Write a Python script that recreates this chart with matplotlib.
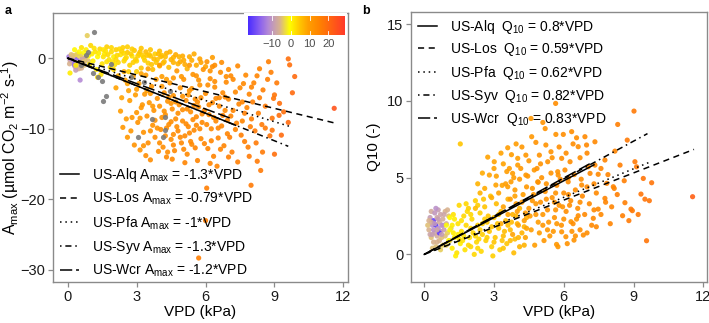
import numpy as np
import matplotlib.pyplot as plt
from matplotlib.colors import LinearSegmentedColormap
from matplotlib.lines import Line2D
from matplotlib.patches import Rectangle

plt.rcParams['font.family'] = ['Liberation Sans', 'DejaVu Sans']
plt.rcParams['mathtext.fontset'] = 'custom'
plt.rcParams['mathtext.rm'] = 'Liberation Sans'
plt.rcParams['mathtext.default'] = 'rm'

# ==========================================
# DATA
# ==========================================
sites = ['US-Alq', 'US-Los', 'US-Pfa', 'US-Syv', 'US-Wcr']
slope_amax = [-1.3, -0.79, -1.0, -1.3, -1.2]
slope_q10 = [0.8, 0.59, 0.62, 0.82, 0.83]
site_vpd_max = [7.3, 11.6, 9.7, 9.6, 7.2]
amax_labels = ['-1.3', '-0.79', '-1', '-1.3', '-1.2']
q10_labels = ['0.8', '0.59', '0.62', '0.82', '0.83']

# panel a points: (VPD, Amax, air temperature)
a_cold = [(0.05, 0.2, -14), (0.1, -0.3, -8), (0.15, 0.5, -5), (0.2, -0.6, -12), (0.25, 0.1, -6),
          (0.3, -0.9, -9), (0.35, 0.4, -4), (0.4, -0.2, -16), (0.45, -1.1, -7), (0.5, 0.3, -3),
          (0.55, -0.5, -11), (0.6, -1.4, -6), (0.65, 0.0, -5), (0.7, -0.8, -13), (0.75, -0.3, -4),
          (0.8, 0.2, -7), (0.12, -0.1, -9), (0.22, 0.4, -5), (0.32, -1.2, -10), (0.42, 0.6, -4),
          (0.52, -0.7, -6), (0.62, -0.1, -8), (0.72, -1.0, -5), (0.18, -0.4, -12), (0.38, -0.6, -7),
          (0.58, 0.5, -4), (0.28, -0.9, -15), (0.48, -1.5, -6), (0.68, -0.5, -5), (0.54, -3.1, -12),
          (0.85, 3.2, -4), (0.08, -0.8, -6), (0.9, -0.4, -5), (0.35, -1.7, -9)]
a_mild = [(0.3, 1.2, 0), (0.35, -1.0, 1), (0.6, 1.5, 2), (0.7, 0.8, -1), (0.9, 0.3, 0), (1.0, 1.8, 3),
          (1.1, -0.4, 1), (1.2, 0.9, 2), (1.3, 0.2, 0), (1.4, 1.3, 3), (1.5, -0.8, 2), (1.6, 0.6, 1),
          (1.7, 1.6, 4), (1.8, -0.2, 2), (1.9, 0.9, 3), (2.0, 0.2, 1), (2.1, 1.2, 4), (2.2, -0.6, 3),
          (2.3, 0.5, 2), (2.4, 1.5, 4), (2.5, -0.1, 3), (2.6, 0.8, 5), (2.7, -1.0, 4), (2.8, 0.3, 2),
          (2.9, 1.1, 5), (3.0, -0.4, 3), (3.1, 0.6, 4), (3.2, -1.4, 5), (3.3, 0.1, 3), (3.4, 0.9, 6),
          (3.5, -0.7, 4), (3.6, 0.3, 5), (3.7, -1.6, 6), (3.8, 0.6, 4), (3.9, -0.2, 5), (4.0, -1.1, 6),
          (4.1, 0.4, 5), (4.2, -0.5, 6), (4.3, 0.7, 7), (4.4, -1.3, 6), (4.6, 0.1, 7), (4.8, -0.8, 7),
          (5.0, 0.3, 8), (5.2, -1.5, 7), (5.4, -0.3, 8), (5.6, -1.0, 8), (1.25, -1.6, 1), (1.45, -2.3, 2),
          (0.1, -2.1, 1), (1.3, -2.7, 2), (1.55, 0.2, 2), (1.75, 0.5, 3), (1.95, -0.5, 2), (2.15, 0.4, 3),
          (2.35, 1.0, 4), (2.55, 0.1, 3), (2.75, 0.6, 4), (2.95, -0.2, 4), (3.15, 0.9, 5), (3.35, -0.3, 4),
          (3.55, 0.5, 5), (3.75, -0.1, 6), (3.95, 0.6, 6), (4.15, -0.7, 6), (4.5, -0.2, 7), (4.7, 0.5, 8),
          (4.9, -0.5, 8), (5.1, -0.9, 8), (5.3, 0.2, 8), (5.8, -0.6, 9), (1.05, 0.6, 1), (1.65, 1.0, 2),
          (2.05, -0.9, 2), (2.45, 0.7, 3), (2.85, -0.6, 4), (3.25, 0.4, 4), (3.65, -0.9, 5), (4.05, 0.2, 6),
          (1.85, -1.3, 2), (2.65, -1.9, 4), (0.5, 0.9, 0), (0.8, 1.2, 1), (0.95, -0.9, 1), (1.15, 1.4, 2),
          (1.35, 0.7, 1), (1.55, 1.2, 2), (1.7, -0.5, 2), (1.9, 1.5, 3), (2.1, -0.2, 3), (2.25, 1.3, 3),
          (2.45, -0.4, 3), (2.6, 1.6, 4), (2.8, 1.3, 4), (3.05, 0.3, 4), (3.2, 1.4, 5), (3.45, 0.4, 5),
          (3.6, 1.2, 5), (3.85, -0.6, 5), (4.0, 1.0, 6), (4.25, 0.2, 6), (4.45, 0.9, 7), (4.6, -0.6, 7),
          (4.85, 0.2, 7), (5.05, -0.3, 8), (5.5, 0.6, 8), (5.75, -0.1, 9), (6.0, -1.2, 9), (6.3, 0.1, 10),
          (2.0, -1.6, 3), (3.0, -1.9, 4)]
a_warm = [(2.1, -4.2, 9), (2.3, -7.5, 10), (2.4, -9.8, 11), (2.5, -3.1, 9), (2.6, -11.2, 11),
          (2.7, -6.0, 10), (2.8, -8.4, 11), (2.9, -12.3, 12), (2.95, -5.2, 10), (2.45, -1.9, 8),
          (3.05, -9.1, 12), (3.1, -3.6, 10), (3.15, -13.0, 12), (3.2, -7.0, 11), (3.3, -10.5, 12),
          (3.35, -5.1, 11), (3.4, -2.4, 10), (3.45, -8.2, 12), (3.5, -12.0, 13), (3.55, -6.3, 11),
          (3.6, -14.4, 13), (3.65, -4.0, 11), (3.7, -9.5, 12), (3.75, -7.4, 12), (3.8, -11.2, 13),
          (3.85, -3.0, 10), (3.9, -5.7, 12), (3.95, -13.2, 13), (3.5, -1.5, 9), (3.8, -8.8, 12),
          (4.0, -6.8, 12), (4.05, -10.1, 13), (4.1, -2.6, 10), (4.15, -12.6, 13), (4.2, -4.9, 12),
          (4.25, -8.0, 12), (4.3, -14.0, 14), (4.35, -6.1, 12), (4.4, -9.4, 13), (4.45, -3.5, 11),
          (4.5, -11.5, 13), (4.55, -7.2, 13), (4.6, -5.3, 12), (4.65, -13.1, 14), (4.7, -8.6, 13),
          (4.75, -1.8, 11), (4.8, -10.3, 14), (4.85, -6.6, 13), (4.9, -4.2, 12), (4.95, -12.0, 14),
          (4.3, -9.9, 13), (4.6, -10.8, 13), (4.8, -7.8, 13), (4.2, -7.5, 12), (4.4, -5.5, 12),
          (5.0, -8.9, 13), (5.05, -3.0, 12), (5.1, -11.0, 14), (5.15, -6.0, 13), (5.2, -13.6, 14),
          (5.25, -9.7, 14), (5.3, -4.6, 12), (5.35, -7.6, 13), (5.4, -12.2, 14), (5.45, -2.3, 12),
          (5.5, -10.2, 14), (5.55, -5.8, 13), (5.6, -8.3, 14), (5.65, -14.5, 15), (5.7, -6.9, 13),
          (5.7, -28.3, 16), (5.75, -3.8, 12), (5.8, -11.4, 14), (5.85, -9.1, 14), (5.9, -1.6, 12),
          (5.95, -7.4, 14), (5.3, -10.6, 14), (5.6, -9.5, 14), (5.2, -7.2, 13), (5.5, -6.7, 13),
          (6.0, -23.0, 16), (6.05, -18.4, 16), (6.0, -5.0, 13), (6.1, -12.8, 15), (6.15, -8.0, 14),
          (6.2, -2.9, 13), (6.25, -10.0, 14), (6.3, -6.3, 14), (6.35, -13.9, 15), (6.4, -4.1, 13),
          (6.45, -8.9, 14), (6.5, -15.3, 15), (6.55, -11.3, 15), (6.6, -6.8, 14), (6.65, -2.0, 13),
          (6.7, -9.6, 15), (6.75, -4.9, 14), (6.8, -12.4, 15), (6.85, -7.4, 14), (6.9, -3.4, 14),
          (6.95, -10.7, 15), (6.3, -1.2, 13), (6.06, -0.5, 12), (6.4, -1.0, 13), (6.9, -2.6, 13),
          (6.2, -1.8, 12), (7.0, -5.8, 14), (7.1, -8.2, 15), (7.15, -13.3, 16), (7.2, -3.0, 14),
          (7.3, -10.1, 15), (7.4, -14.7, 16), (7.45, -6.5, 15), (7.5, -4.2, 14), (7.6, -8.9, 15),
          (7.7, -11.8, 16), (7.75, -2.4, 14), (7.8, -7.0, 15), (7.9, -5.1, 15), (7.98, -18.0, 17),
          (7.95, -9.7, 16), (7.4, -1.1, 14), (8.05, -6.2, 16), (8.1, -3.5, 15), (8.2, -12.0, 17),
          (8.24, -2.5, 15), (8.25, -14.6, 17), (8.3, -7.8, 16), (8.4, -15.9, 17), (8.45, -9.4, 17),
          (8.48, -13.3, 17), (8.5, -4.5, 16), (8.6, -6.8, 17), (8.74, -0.5, 16), (8.8, -11.0, 18),
          (8.9, -8.5, 18), (9.22, -6.4, 19), (9.0, -5.2, 18), (8.96, -5.7, 18), (9.6, -0.1, 19),
          (9.66, -0.95, 19), (9.78, -4.9, 20), (9.88, -2.6, 20), (9.3, -10.9, 20), (9.2, -8.1, 19),
          (11.6, -7.1, 24), (9.0, -13.6, 19), (2.2, -2.5, 8), (2.6, -3.6, 9), (3.0, -4.4, 10),
          (3.25, -6.6, 11), (3.6, -5.0, 11), (4.1, -4.0, 11), (4.5, -6.4, 12), (5.0, -5.4, 12),
          (5.4, -4.3, 12), (5.8, -5.6, 13), (6.1, -3.8, 13), (6.6, -5.6, 14), (7.3, -4.8, 14),
          (7.6, -6.2, 15), (8.0, -4.1, 15), (8.7, -3.0, 16), (5.3, -1.0, 11), (4.6, -2.8, 11),
          (5.6, -2.5, 12), (7.0, -1.6, 13), (4.0, -1.0, 10), (6.7, -0.6, 13),
          (3.15, -8.5, 11), (3.3, -12.4, 12), (3.45, -4.6, 10), (3.6, -10.3, 12), (3.7, -6.8, 11),
          (3.9, -9.9, 12), (4.0, -12.0, 13), (4.1, -8.4, 12), (4.25, -11.0, 13), (4.35, -13.3, 13),
          (4.5, -9.0, 13), (4.6, -12.3, 14), (4.7, -6.2, 12), (4.75, -9.7, 13), (4.9, -11.2, 14),
          (5.0, -7.3, 13), (5.05, -12.9, 14), (5.15, -9.3, 14), (5.25, -5.2, 12), (5.35, -11.8, 14),
          (5.45, -8.7, 14), (5.55, -12.7, 15), (5.65, -6.2, 13), (5.75, -10.0, 14), (5.85, -7.9, 14),
          (5.95, -12.1, 15), (6.05, -9.4, 14), (6.15, -6.6, 14), (6.25, -11.7, 15), (6.35, -8.4, 14),
          (6.45, -5.7, 14), (6.55, -9.9, 15), (6.65, -12.9, 15), (6.75, -8.1, 15), (6.85, -5.5, 14),
          (6.95, -8.8, 15), (7.05, -11.2, 16), (7.2, -7.4, 15), (7.35, -9.2, 15), (7.55, -10.9, 16),
          (7.7, -7.8, 16), (7.85, -12.6, 16), (8.0, -8.6, 16), (8.15, -10.3, 17), (8.35, -5.6, 16),
          (8.6, -9.9, 17), (3.0, -7.7, 11), (2.75, -10.3, 11), (2.55, -8.6, 10), (3.4, -13.8, 13),
          (4.55, -14.3, 14), (5.1, -14.8, 15), (6.2, -14.9, 15), (7.0, -14.0, 16), (7.9, -13.9, 17),
          (2.35, -5.6, 9), (2.65, -4.6, 9), (2.85, -2.6, 9), (3.2, -2.2, 9), (4.3, -3.0, 10),
          (4.95, -2.6, 11), (5.7, -3.1, 12), (6.4, -3.3, 13), (7.1, -2.5, 14), (7.65, -3.6, 14),
          (8.35, -1.5, 15), (8.85, -2.0, 16), (9.1, -3.5, 17), (9.4, -7.6, 19), (8.9, -10.2, 18),
          (9.6, -9.1, 20)]
# points without a temperature record (drawn grey)
a_na = [(1.16, 3.7), (1.12, -2.1), (1.33, -2.6), (1.48, -3.2), (1.66, -5.4), (1.52, -6.0),
        (1.89, -0.8), (2.76, -2.7), (4.46, -4.6), (3.66, -8.6), (4.24, -8.4), (3.08, -11.2),
        (4.14, -11.2), (4.24, -10.2), (0.6, -0.9), (0.8, 0.5), (3.3, -3.4), (0.9, 0.9)]

# panel b points: (VPD, Q10, air temperature)
b_cold = [(0.2, 1.6, -6), (0.25, 2.4, -9), (0.3, 1.1, -5), (0.3, 2.8, -7), (0.35, 1.9, -11),
          (0.4, 0.8, -6), (0.4, 2.2, -20), (0.45, 1.4, -8), (0.45, 2.7, -10), (0.5, 1.9, -22),
          (0.5, 0.5, -5), (0.55, 2.4, -8), (0.55, 1.2, -7), (0.6, 1.7, -12), (0.6, 2.9, -9),
          (0.65, 0.9, -6), (0.65, 2.1, -7), (0.7, 1.5, -11), (0.7, 2.6, -8), (0.75, 1.1, -5),
          (0.75, 1.9, -10), (0.8, 2.3, -7), (0.8, 0.6, -4), (0.85, 1.6, -9), (0.9, 2.8, -6),
          (0.9, 1.2, -5), (0.95, 2.0, -7), (1.0, 1.4, -4), (1.05, 2.5, -5), (1.1, 0.9, -4),
          (0.35, 0.4, -5), (0.5, 3.0, -11), (0.65, 1.4, -21), (0.85, 2.6, -8), (0.25, 1.3, -8),
          (0.4, 1.6, -11), (0.55, 0.8, -6), (0.7, 0.3, -4), (1.0, 2.9, -6), (0.3, 2.1, -7),
          (0.95, 0.6, -4), (0.15, 1.9, -5), (0.6, 2.3, -9), (0.75, 1.3, -9), (0.45, 2.0, -10),
          (0.35, 1.3, -9), (0.55, 1.6, -8), (0.8, 1.9, -11), (0.2, 2.2, -6), (1.15, 1.7, -4)]
b_mild = [(1.1, 1.6, 0), (1.2, 0.4, 1), (1.25, 2.6, 2), (1.3, 1.1, 1), (1.4, 0.1, 2), (1.45, 2.0, 2),
          (1.5, 3.2, 3), (1.55, 0.7, 1), (1.6, 1.5, 2), (1.7, 2.5, 3), (1.75, 0.3, 2), (1.8, 1.9, 3),
          (1.9, 3.0, 4), (1.95, 1.1, 2), (2.0, 0.5, 3), (2.05, 2.3, 3), (2.1, 1.4, 3), (2.2, 3.5, 4),
          (2.25, 0.8, 3), (2.3, 1.9, 4), (2.4, 2.7, 4), (2.45, 0.2, 3), (2.5, 1.3, 4), (2.6, 3.1, 5),
          (2.65, 0.9, 4), (2.7, 2.1, 5), (2.8, 1.5, 5), (2.85, 3.8, 5), (2.9, 0.5, 4), (3.0, 2.4, 5),
          (3.05, 1.1, 5), (3.1, 3.3, 6), (3.2, 1.7, 5), (3.25, 0.3, 4), (3.3, 2.8, 6), (3.4, 1.2, 6),
          (3.5, 2.2, 6), (3.55, 0.7, 5), (3.6, 3.6, 7), (3.7, 1.6, 6), (3.8, 2.6, 7), (3.85, 0.1, 6),
          (3.9, 1.0, 6), (4.0, 2.0, 7), (4.1, 3.0, 7), (4.2, 1.4, 7), (4.3, 0.6, 7), (4.4, 2.4, 8),
          (1.35, -0.1, 1), (2.15, 0.0, 3), (2.95, -0.1, 4), (1.65, 0.9, 2), (2.35, 1.0, 3),
          (2.75, 2.5, 5), (3.15, 2.0, 5), (3.45, 1.5, 6), (1.05, 0.9, 0), (0.95, 1.9, -1),
          (1.85, 2.8, 3), (2.55, 3.6, 5), (1.55, 7.2, 5), (1.2, 1.9, 1), (1.6, 2.2, 2), (2.0, 1.7, 3),
          (2.4, 1.6, 4), (2.6, 2.3, 4), (3.35, 0.9, 5), (3.75, 2.1, 6), (4.05, 1.1, 7), (1.45, 1.3, 1),
          (1.3, 2.3, 1), (1.5, 1.0, 2), (1.7, 1.2, 2), (1.9, 0.6, 3), (2.0, 2.6, 3), (2.2, 1.2, 3),
          (2.3, 0.4, 3), (2.5, 2.0, 4), (2.7, 1.1, 4), (2.9, 1.8, 5), (3.0, 0.8, 5), (3.2, 2.6, 5),
          (3.4, 0.4, 5), (3.6, 1.9, 6), (3.7, 0.9, 6), (3.95, 2.5, 7), (4.1, 0.5, 7), (4.3, 1.8, 7),
          (1.8, 3.3, 3), (2.3, 3.2, 4), (1.1, 2.4, 0), (1.25, 1.4, 1)]
b_warm = [(3.59, 6.95, 10), (4.62, 7.67, 11), (2.73, 6.34, 9), (3.01, 6.04, 9), (5.65, 9.84, 13),
          (4.59, 8.86, 11), (5.66, 7.82, 12), (9.02, 9.34, 17), (8.32, 8.47, 16), (8.73, 7.45, 17),
          (9.78, 4.67, 18), (11.54, 3.76, 22), (9.56, 0.89, 18), (9.32, 3.93, 18), (9.49, 3.6, 18),
          (9.68, 3.5, 18), (8.63, 3.37, 16), (8.06, 3.1, 15), (8.53, 2.52, 16), (8.89, 2.95, 17),
          (8.95, 2.85, 17), (7.48, 2.95, 14), (7.27, 2.35, 14), (7.77, 3.65, 15), (8.17, 4.3, 15),
          (6.84, 1.26, 13), (6.44, 0.93, 12), (6.09, 1.15, 12), (5.69, 0.65, 11), (5.91, 1.47, 12),
          (6.62, 2.52, 13), (6.31, 2.13, 12), (6.34, 8.0, 13), (6.55, 7.6, 13), (6.91, 7.67, 14),
          (7.34, 7.34, 14), (5.98, 7.82, 13), (6.62, 7.02, 13), (6.98, 7.13, 14), (7.77, 6.15, 15),
          (8.2, 6.73, 15), (8.42, 5.82, 16), (9.06, 6.04, 17), (9.13, 5.71, 17), (9.42, 4.95, 18),
          (7.13, 5.28, 14), (7.48, 5.22, 14), (6.19, 4.73, 13), (6.77, 4.52, 13), (7.85, 4.63, 15),
          (8.13, 4.41, 15), (5.91, 6.26, 13), (6.27, 6.04, 13), (7.34, 5.82, 14), (5.76, 5.17, 12),
          (7.05, 5.71, 14), (3.66, 5.6, 10), (3.8, 5.28, 10), (4.02, 5.82, 10), (4.37, 5.17, 11),
          (4.73, 5.5, 11), (4.95, 6.47, 12), (5.31, 6.04, 12), (5.45, 6.69, 12), (5.23, 7.13, 12),
          (4.37, 6.47, 11), (4.02, 6.26, 10), (5.74, 5.39, 12), (4.88, 4.73, 11), (3.73, 4.73, 10),
          (2.8, 5.17, 9), (3.08, 4.52, 9), (3.59, 4.41, 10),
          (3.2, 4.0, 9), (3.4, 3.1, 9), (3.5, 4.6, 10), (3.7, 3.6, 10), (3.9, 4.2, 10), (4.0, 2.8, 10),
          (4.1, 4.9, 11), (4.2, 3.4, 11), (4.3, 2.2, 10), (4.4, 4.4, 11), (4.5, 3.0, 11), (4.6, 1.6, 10),
          (4.7, 3.9, 11), (4.8, 2.6, 11), (4.9, 4.7, 12), (5.0, 3.4, 12), (5.1, 1.9, 11), (5.2, 4.1, 12),
          (5.3, 2.9, 12), (5.4, 1.2, 11), (5.5, 3.7, 12), (5.6, 2.4, 12), (5.7, 4.5, 13), (5.8, 3.2, 12),
          (5.9, 1.9, 12), (6.0, 4.0, 13), (6.1, 2.8, 13), (6.2, 5.0, 13), (6.3, 3.5, 13), (6.4, 2.0, 13),
          (6.5, 4.2, 13), (6.6, 3.0, 13), (6.7, 1.6, 13), (6.8, 3.8, 14), (6.9, 2.6, 14), (7.0, 4.4, 14),
          (7.1, 3.3, 14), (7.2, 1.9, 14), (7.4, 4.0, 14), (7.6, 2.6, 14), (7.8, 3.4, 15), (8.0, 2.0, 15),
          (3.3, 2.0, 8), (3.6, 2.6, 9), (3.8, 1.3, 9), (4.05, 1.9, 9), (4.35, 1.1, 9), (4.55, 2.5, 10),
          (4.75, 0.6, 10), (4.95, 1.4, 10), (5.15, 0.9, 11), (5.35, 2.1, 11), (5.55, 1.5, 11),
          (5.75, 0.5, 11), (5.95, 3.1, 12), (6.15, 0.7, 12), (6.35, 1.5, 12), (6.55, 2.3, 12),
          (2.6, 4.3, 8), (2.9, 3.7, 8), (3.1, 5.1, 9), (3.35, 4.5, 9), (3.55, 5.4, 10), (3.85, 5.0, 10),
          (4.15, 5.6, 11), (4.45, 5.1, 11), (4.65, 4.3, 11), (4.85, 5.6, 12), (5.05, 5.0, 12),
          (5.25, 4.6, 12), (5.45, 5.3, 12), (5.65, 4.0, 12), (5.85, 4.9, 13), (6.05, 5.5, 13),
          (6.45, 5.2, 13), (6.75, 4.9, 13), (2.4, 4.0, 7), (2.2, 3.0, 6), (4.25, 3.9, 10),
          (4.8, 3.3, 11), (5.25, 3.6, 12), (5.65, 2.9, 12), (6.25, 3.2, 13), (3.95, 3.3, 10),
          (3.4, 5.9, 9), (3.75, 6.5, 10), (4.2, 7.0, 11), (4.5, 6.1, 11), (4.8, 7.3, 12), (5.0, 5.9, 12),
          (5.2, 8.2, 12), (5.5, 6.3, 12), (5.8, 7.0, 13), (6.1, 6.6, 13), (6.4, 7.2, 13), (6.7, 6.3, 13),
          (7.0, 6.6, 14), (7.3, 4.6, 14), (7.6, 5.6, 15), (7.9, 5.2, 15), (8.3, 3.9, 16), (8.6, 4.8, 16),
          (8.8, 2.2, 17), (9.2, 2.6, 17), (4.4, 1.7, 9), (4.9, 2.1, 10), (5.3, 1.6, 11), (5.7, 2.0, 11),
          (6.0, 2.3, 12), (6.5, 1.2, 12), (7.0, 1.4, 13), (7.4, 1.8, 14), (3.9, 3.8, 9), (4.35, 2.7, 10),
          (4.65, 3.5, 11), (5.1, 2.6, 11), (5.6, 3.4, 12), (6.2, 3.9, 13), (6.7, 3.4, 13), (7.3, 2.9, 14),
          (2.5, 5.3, 8), (3.0, 5.6, 9), (3.3, 6.6, 9), (2.3, 4.6, 7), (3.95, 7.2, 10), (5.1, 8.6, 12)]

colorbar_ticks = [-10, 0, 10, 20]
temp_min, temp_max = -23, 29

# ==========================================
# STYLE
# ==========================================
temp_cmap = LinearSegmentedColormap.from_list('temp', [
    (0.00, '#4a2cff'), (0.12, '#8a60f0'), (0.21, '#b48ad6'), (0.33, '#d9b48c'),
    (0.43, '#ffff00'), (0.53, '#ffc800'), (0.62, '#ffa000'), (0.74, '#ff8200'),
    (1.00, '#ff3a2a')])
line_styles = ['-', (0, (4, 3)), (0, (1, 2.5)), (0, (1, 2.5, 4, 2.5)), (0, (8, 2.5))]
frame_col = '#8a8a8a'


def style_axes(ax):
    for sp in ax.spines.values():
        sp.set_color(frame_col)
        sp.set_linewidth(1.0)
    ax.tick_params(direction='out', length=3.5, width=0.9, color=frame_col,
                   labelsize=10.5, labelcolor='#1a1a1a', pad=2)


def draw_points(ax, groups, na=None):
    for g in groups:
        v, y, t = np.array(g).T
        ax.scatter(v, y, c=t, cmap=temp_cmap, vmin=temp_min, vmax=temp_max,
                   s=14, linewidths=0, alpha=0.9, zorder=2)
    if na is not None:
        v, y = np.array(na).T
        ax.scatter(v, y, color='#7a7a7a', s=14, linewidths=0, alpha=0.9, zorder=2)


fig = plt.figure(figsize=(7.09, 3.23), dpi=100)
ax_a = fig.add_axes([53 / 709, 1 - 282 / 323, 295 / 709, 269 / 323])
ax_b = fig.add_axes([411 / 709, 1 - 282 / 323, 296 / 709, 270 / 323])

# ---- panel a ----
draw_points(ax_a, [a_cold, a_mild, a_warm], a_na)
handles = []
for k in range(len(sites)):
    xx = np.array([0, site_vpd_max[k]])
    ax_a.plot(xx, slope_amax[k] * xx, color='black', lw=1.1, ls=line_styles[k], zorder=3)
    handles.append(Line2D([], [], color='black', lw=1.1, ls=line_styles[k]))
ax_a.set_xlim(-0.64, 12.2)
ax_a.set_ylim(-31.7, 6.4)
ax_a.set_xticks([0, 3, 6, 9, 12])
ax_a.set_yticks([-30, -20, -10, 0])
ax_a.set_yticklabels(['\u221230', '\u221220', '\u221210', '0'])
ax_a.set_xlabel('VPD (kPa)', fontsize=11, labelpad=1)
ax_a.set_ylabel('A$_{max}$ (\u00b5mol CO$_2$ m$^{-2}$ s-$^{1}$)', fontsize=11.5)
ax_a.yaxis.set_label_coords(-0.11, 0.5)
style_axes(ax_a)
labs_a = [f'{s} A$_{{max}}$ = {l}*VPD' for s, l in zip(sites, amax_labels)]
ax_a.legend(handles, labs_a, loc='lower left', bbox_to_anchor=(60 / 709, 1 - 279 / 323),
            bbox_transform=fig.transFigure, frameon=False, fontsize=10, handlelength=1.4,
            handletextpad=0.9, labelspacing=0.5, borderpad=0, borderaxespad=0)

# colour bar for air temperature, inside panel a
fig.add_artist(Rectangle((244 / 709, 1 - 52 / 323), 103 / 709, 39 / 323,
                         transform=fig.transFigure, facecolor='white', edgecolor='none', zorder=4))
cax = fig.add_axes([248 / 709, 1 - 35 / 323, 97 / 709, 19 / 323], zorder=5)
grad = np.linspace(temp_min, temp_max, 256).reshape(1, -1)
cax.imshow(grad, cmap=temp_cmap, aspect='auto', extent=[temp_min, temp_max, 0, 1])
for t in colorbar_ticks:
    cax.plot([t, t], [0, 0.2], color='white', lw=0.6)
    cax.plot([t, t], [0.8, 1], color='white', lw=0.6)
cax.set_xlim(temp_min, temp_max)
cax.set_xticks(colorbar_ticks)
cax.set_xticklabels(['\u221210', '0', '10', '20'])
cax.set_yticks([])
cax.tick_params(length=0, labelsize=8, labelcolor='#4d4d4d', pad=3)
for sp in cax.spines.values():
    sp.set_visible(False)

# ---- panel b ----
draw_points(ax_b, [b_cold, b_mild, b_warm])
for k in range(len(sites)):
    xx = np.array([0, site_vpd_max[k]])
    ax_b.plot(xx, slope_q10[k] * xx, color='black', lw=1.1, ls=line_styles[k], zorder=3)
ax_b.set_xlim(-0.57, 12.16)
ax_b.set_ylim(-1.8, 15.8)
ax_b.set_xticks([0, 3, 6, 9, 12])
ax_b.set_yticks([0, 5, 10, 15])
ax_b.set_xlabel('VPD (kPa)', fontsize=11, labelpad=1)
ax_b.set_ylabel('Q10 (-)', fontsize=11, labelpad=4)
style_axes(ax_b)
labs_b = [f'{s}  Q$_{{10}}$ = {l}*VPD' for s, l in zip(sites, q10_labels)]
ax_b.legend(handles, labs_b, loc='upper left', bbox_to_anchor=(418 / 709, 1 - 17.5 / 323),
            bbox_transform=fig.transFigure, frameon=False, fontsize=10, handlelength=1.4,
            handletextpad=0.9, labelspacing=0.42, borderpad=0, borderaxespad=0)

fig.text(5 / 709, 1 - 11 / 323, 'a', fontsize=9, fontweight='bold', va='center')
fig.text(362 / 709, 1 - 11 / 323, 'b', fontsize=9, fontweight='bold', va='center')

fig.savefig('out.png', dpi=100)
